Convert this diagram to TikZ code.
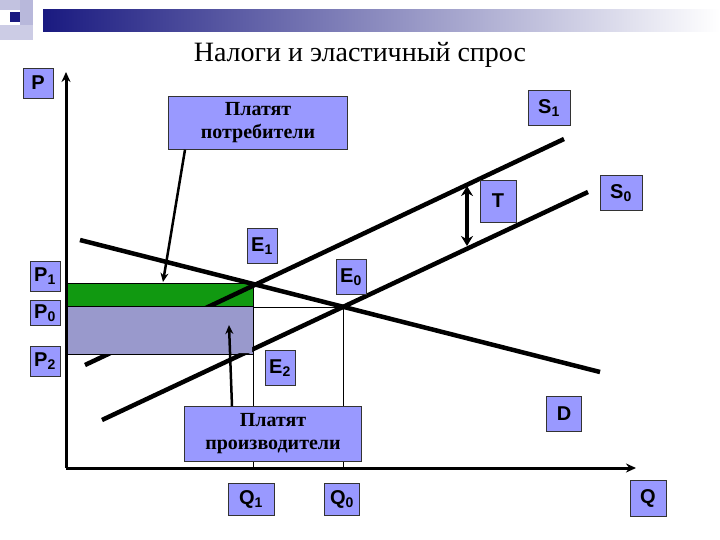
\documentclass[tikz,border=0pt]{standalone}
\usepackage{fontspec}
\setmainfont{Liberation Serif}
\newfontfamily\arialb{Liberation Sans}[BoldFont=* Bold]
\usetikzlibrary{arrows.meta}
\definecolor{lbl}{HTML}{9999FF}
\definecolor{navyc}{HTML}{1A1A80}
\definecolor{greyblue}{HTML}{9999CC}
\definecolor{grn}{HTML}{119911}
\tikzset{
  lab/.style={draw=black!80, fill=lbl, font=\arialb\bfseries\fontsize{20}{22}\selectfont, inner sep=0pt, minimum width=30pt, minimum height=30pt},
  big/.style={draw=black!80, fill=lbl, font=\bfseries\fontsize{20}{23}\selectfont, align=center, inner sep=0pt},
  curve/.style={line width=4.5pt},
  thin/.style={line width=0.7pt},
  ptr/.style={line width=2.5pt, -{Stealth[length=9pt,width=8pt]}}
}
\newcommand{\subidx}[1]{\textsubscript{\fontsize{14}{14}\selectfont #1}}
\begin{document}
\begin{tikzpicture}[x=1pt,y=-1pt]
\useasboundingbox (0,0) rectangle (720,540);
\fill[white] (0,0) rectangle (720,540);
% decoration
\fill[greyblue!60] (0,0) rectangle (33,10);
\fill[greyblue!70] (20,0) rectangle (33,40);
\fill[greyblue!50] (0,25) rectangle (33,40);
\shade[left color=navyc, right color=white] (43,10) rectangle (720,32);
\fill[navyc] (10,12) rectangle (20,22);
% title
\node[font=\fontsize{28}{30}\selectfont] (title) at (360,55) {Налоги и эластичный спрос};
% rectangles
\fill[grn, draw=black, thin] (67,283) rectangle (253,306);
\fill[greyblue, draw=black, thin] (67,306) rectangle (253,354);
% thin guides
\coordinate (e1) at (253,283);
\coordinate (e0) at (343,307);
\coordinate (e2) at (253,352);
\coordinate (q1) at (253,468);
\coordinate (q0) at (343,468);
\coordinate (p0r) at (253,307);
\draw[thin] (p0r) -- (e0) -- (q0);
\draw[thin] (e2) -- (q1);
% curves
\coordinate (s1a) at (85,365); \coordinate (s1b) at (564,139);
\coordinate (s0a) at (102,420); \coordinate (s0b) at (588,192);
\coordinate (da) at (80,240); \coordinate (db) at (600,372);
\draw[curve] (s1a) -- (s1b);
\draw[curve] (s0a) -- (s0b);
\draw[curve] (da) -- (db);
\fill[greyblue] (68,355) -- (68,307) -- (252,307) -- (252,353) -- cycle;
\draw[thin] (67,354) -- (253,354);
% axes
\coordinate (o) at (66,468);
\coordinate (ytop) at (66,72);
\coordinate (xend) at (636,468);
\draw[line width=3pt, -{Stealth[length=10pt,width=9pt]}] (o) -- (ytop);
\draw[line width=3pt, -{Stealth[length=10pt,width=9pt]}] (o) -- (xend);
% T arrow
\coordinate (ta) at (467,186); \coordinate (tb) at (467,246);
\draw[line width=4pt, {Stealth[length=10pt,width=12pt]}-{Stealth[length=10pt,width=12pt]}] (ta) -- (tb);
% labels
\node[lab] (P) at (38,83) {P};
\node[lab] (P1) at (45,276) {P\subidx{1}};
\node[lab, minimum height=25pt] (P0) at (45,313) {P\subidx{0}};
\node[lab] (P2) at (45,361) {P\subidx{2}};
\node[lab, minimum height=35pt] (E1) at (262,246) {E\subidx{1}};
\node[lab, minimum height=35pt] (E0) at (351,277) {E\subidx{0}};
\node[lab, minimum height=35pt] (E2) at (280,368) {E\subidx{2}};
\node[lab, minimum width=42pt, minimum height=35pt] (S1) at (549,108) {S\subidx{1}};
\node[lab, minimum width=42pt, minimum height=35pt] (S0) at (621,193) {S\subidx{0}};
\node[lab, minimum width=36pt, minimum height=42pt] (T) at (498,201) {T};
\node[lab, minimum width=35pt, minimum height=35pt] (D) at (564,414) {D};
\node[lab, minimum width=46pt, minimum height=32pt] (Q1) at (251,499) {Q\subidx{1}};
\node[lab, minimum width=35pt, minimum height=32pt] (Q0) at (342,499) {Q\subidx{0}};
\node[lab, minimum width=36pt, minimum height=36pt] (Q) at (648,498) {Q};
\node[big, minimum width=179pt, minimum height=53pt] (cons) at (258,123) {Платят\\потребители};
\node[big, minimum width=177pt, minimum height=55pt] (prod) at (273,434) {Платят\\производители};
\coordinate (c1) at (163,282);
\coordinate (c2) at (229,325);
\draw[ptr] ([xshift=-73pt]cons.south) -- (c1);
\draw[ptr] ([xshift=-41pt]prod.north) -- (c2);
\end{tikzpicture}
\end{document}
